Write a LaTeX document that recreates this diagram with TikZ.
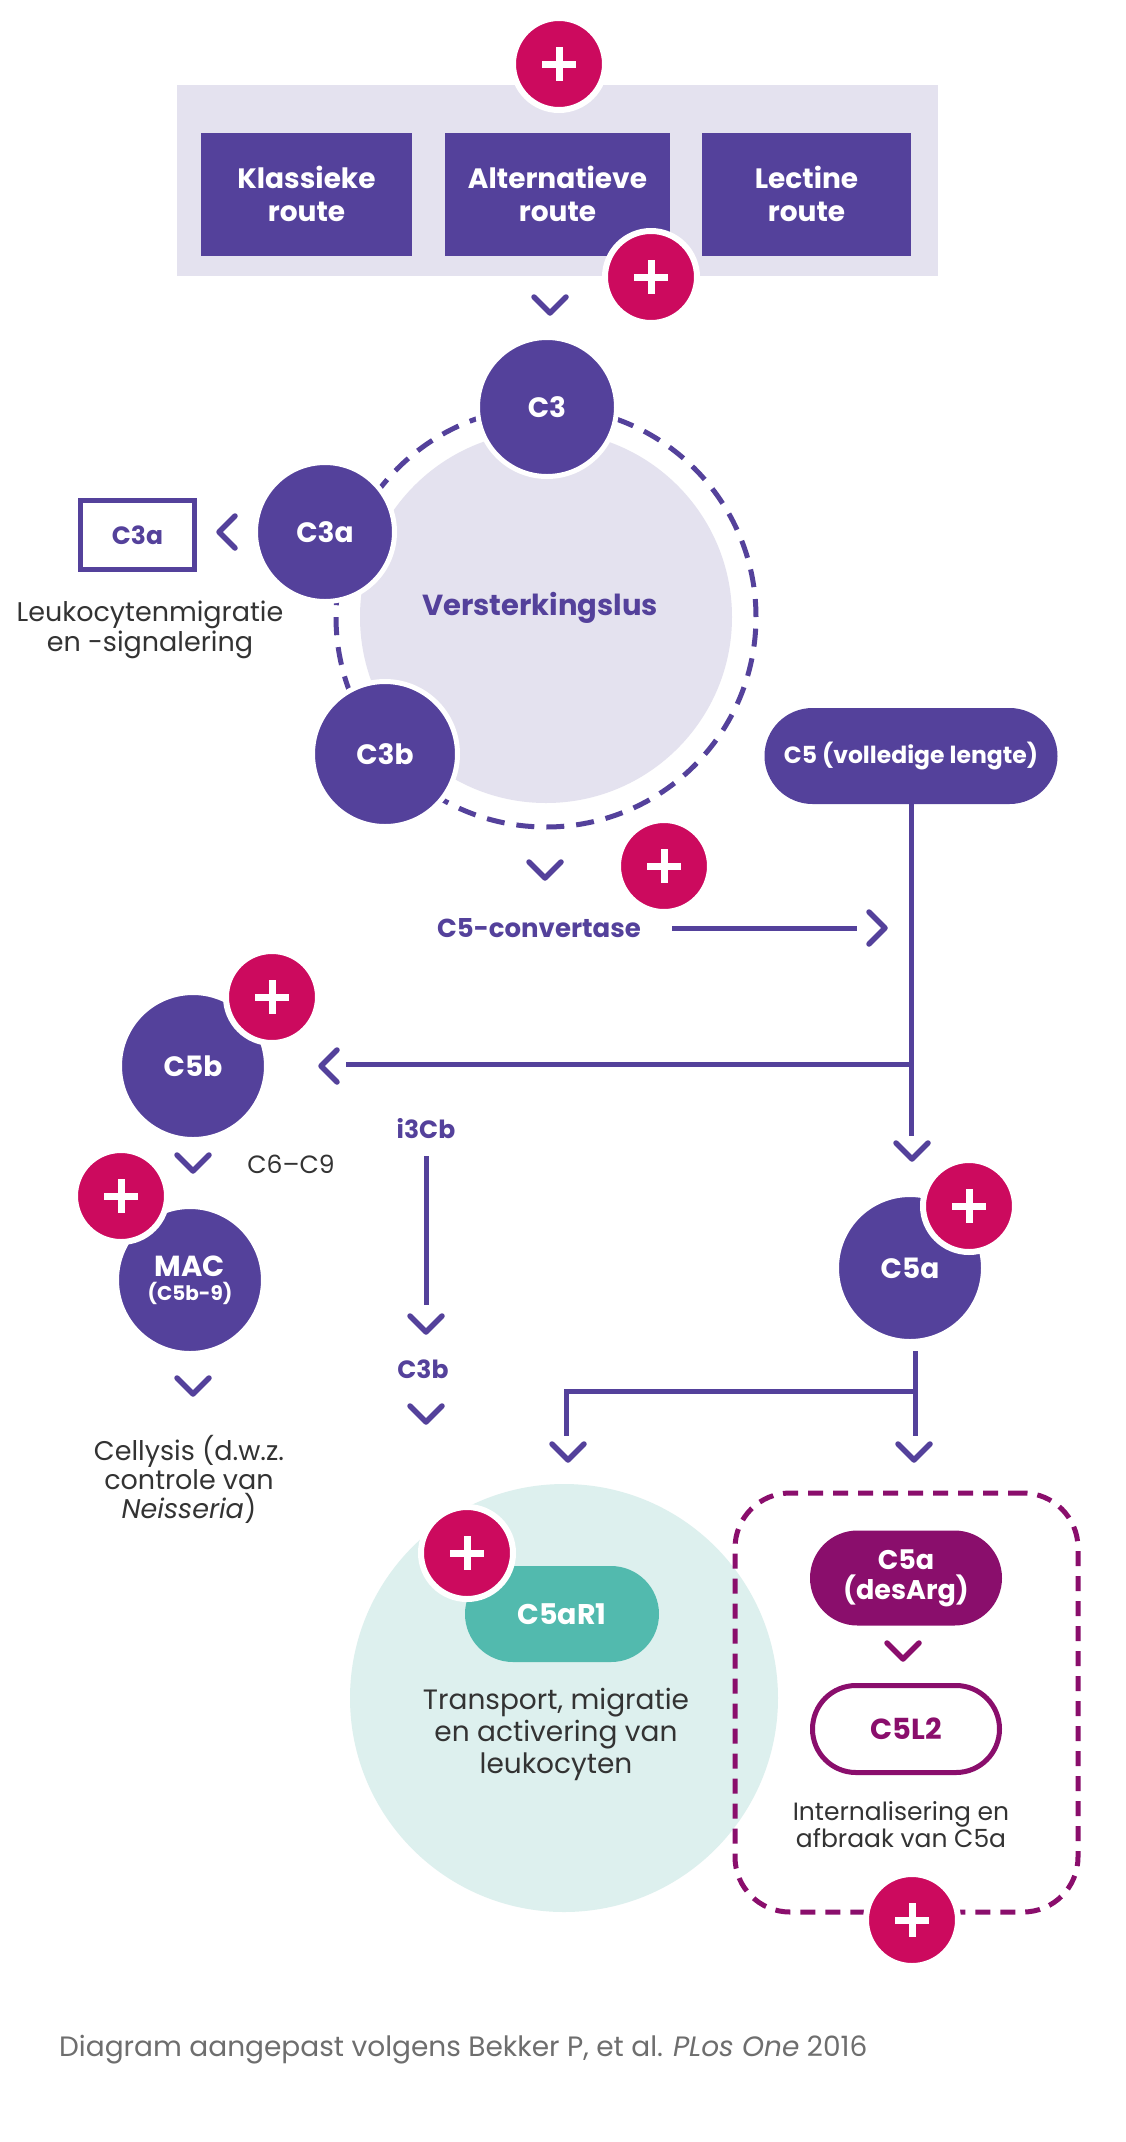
\documentclass[tikz,border=0pt]{standalone}
\usepackage{fontspec}
\setmainfont{Poppins}
\usetikzlibrary{shapes.misc}
\definecolor{pur}{RGB}{84,65,155}
\definecolor{lav}{RGB}{228,226,239}
\definecolor{mag}{RGB}{204,10,94}
\definecolor{dmag}{RGB}{138,14,108}
\definecolor{tealA}{RGB}{82,186,174}
\definecolor{lteal}{RGB}{221,240,238}
\definecolor{txt}{RGB}{51,51,51}
\definecolor{foot}{RGB}{110,110,110}
\newcommand\fs[2]{\fontsize{#1}{#2}\selectfont}
\tikzset{
 plusc/.style={circle, fill=mag, draw=white, line width=6pt, minimum size=92pt, inner sep=0pt,
   path picture={
     \fill[white] ([xshift=-17pt,yshift=-3.5pt]path picture bounding box.center) rectangle ([xshift=17pt,yshift=3.5pt]path picture bounding box.center);
     \fill[white] ([xshift=-3.5pt,yshift=-17pt]path picture bounding box.center) rectangle ([xshift=3.5pt,yshift=17pt]path picture bounding box.center);}},
 bigc/.style={circle, fill=pur, draw=white, line width=5pt, inner sep=0pt, text=white, font=\bfseries\fs{28}{30}, align=center},
 routebox/.style={rectangle, fill=pur, inner sep=0pt, minimum height=123pt, text=white, font=\bfseries\fs{28}{33}, align=center},
 pill/.style={rounded rectangle, inner sep=0pt, align=center},
 conn/.style={draw=pur, line width=5pt},
 chevst/.style={line width=5.5pt, line cap=round, line join=round},
 pics/chevD/.style={code={\draw[chevst, draw=#1] (-16,-8) -- (0,8) -- (16,-8);}},
 pics/chevD/.default=pur,
 pics/chevL/.style={code={\draw[chevst, draw=#1] (8,-16) -- (-8,0) -- (8,16);}},
 pics/chevL/.default=pur,
 pics/chevR/.style={code={\draw[chevst, draw=#1] (-8,-16) -- (8,0) -- (-8,16);}},
 pics/chevR/.default=pur,
 purtext/.style={text=pur, font=\bfseries\fs{25}{28}},
 bodytext/.style={text=txt, font=\fs{27}{30}, align=center},
}
\begin{document}
\begin{tikzpicture}[x=1pt,y=-1pt]
\useasboundingbox (0,0) rectangle (1125,2142);
\fill[white] (0,0) rectangle (1125,2142);

% top routes
\fill[lav] (177,85) rectangle (938,276);
\node[routebox, minimum width=211pt] (klas) at (306.5,194) {Klassieke\\route};
\node[routebox, minimum width=225pt] (alt) at (557.5,194) {Alternatieve\\route};
\node[routebox, minimum width=209pt] (lec) at (806.5,194) {Lectine\\route};
\node[plusc] (p1) at (559,64) {};
\node[plusc] (p2) at (651,277) {};
\pic at (550,305) {chevD};

% amplification loop
\node[circle, fill=lav, minimum size=372pt, inner sep=0pt] (loop) at (546,617) {};
\node[circle, draw=pur, line width=5pt, dash pattern=on 18pt off 12pt, minimum size=420pt, inner sep=0pt] (ring) at (546,617) {};
\node[text=pur, font=\bfseries\fs{29}{30}] (vers) at (540,608) {Versterkingslus};
\node[bigc, minimum size=139pt] (c3) at (547,407) {C3};
\node[bigc, minimum size=139pt] (c3a) at (325,532) {C3a};
\node[bigc, minimum size=145pt] (c3b) at (385,754) {C3b};
\node[draw=pur, line width=5pt, minimum width=114pt, minimum height=69pt, inner sep=0pt, purtext] (c3abox) at (137.5,535) {C3a};
\pic at (227,532) {chevL};
\node[bodytext] (leuk) at (150,630) {Leukocytenmigratie\\en -signalering};

% convertase
\pic at (545,870) {chevD};
\node[plusc] (p3) at (664,866) {};
\node[text=pur, font=\bfseries\fs{26}{28}] (conv) at (539,928) {C5-convertase};
\coordinate (cs) at (672,928);
\coordinate (ce) at (857,928);
\draw[conn] (cs) -- (ce);
\pic at (877,928) {chevR};

% C5
\node[pill, fill=pur, minimum width=293pt, minimum height=96pt, text=white, font=\bfseries\fs{23.5}{26}] (c5) at (911,756) {C5 (volledige lengte)};
\coordinate (j1) at (911,1064);
\coordinate (e1) at (911,1136);
\coordinate (e2) at (346,1064);
\draw[conn] (c5.south) -- (e1);
\draw[conn] (j1) -- (e2);
\pic at (329,1066) {chevL};
\pic at (912,1151) {chevD};

% C5a
\node[bigc, minimum size=147pt] (c5a) at (910,1268) {C5a};
\node[plusc] (p4) at (969,1206) {};
\coordinate (s2) at (915,1351);
\coordinate (j2) at (915,1391);
\coordinate (e3) at (915,1436);
\coordinate (k2) at (566,1391);
\coordinate (e4) at (566,1436);
\draw[conn] (s2) -- (e3);
\draw[conn] (j2) -- (k2) -- (e4);
\pic at (568,1452) {chevD};
\pic at (914,1452) {chevD};

% C5b / MAC
\node[bigc, minimum size=147pt] (c5b) at (193,1066) {C5b};
\node[plusc] (p5) at (272,997) {};
\pic at (193,1163) {chevD};
\node[text=txt, font=\fs{25}{28}] (c69) at (291,1164) {C6–C9};
\node[bigc, minimum size=147pt] (mac) at (190,1280) {{\fs{29}{30}MAC}\\[-6pt]{\fs{20}{22}(C5b-9)}};
\node[plusc] (p6) at (121,1196) {};
\pic at (193,1386) {chevD};
\node[text=txt, font=\fs{27}{29}, align=center] (lysis) at (189,1479) {Cellysis (d.w.z.\\controle van\\\textit{Neisseria})};

% i3Cb
\node[purtext] (i3cb) at (426,1129) {i3Cb};
\coordinate (is) at (426,1156);
\coordinate (ie) at (426,1305);
\draw[conn] (is) -- (ie);
\pic at (426,1324) {chevD};
\node[purtext] (c3bt) at (423,1369) {C3b};
\pic at (426,1414) {chevD};

% C5aR1
\node[circle, fill=lteal, minimum size=428pt, inner sep=0pt] (tealc) at (564,1698) {};
\node[pill, fill=tealA, minimum width=194pt, minimum height=96pt, text=white, font=\bfseries\fs{28.5}{30}] (c5ar1) at (562,1614) {C5aR1};
\node[plusc] (p7) at (467,1553) {};
\node[text=txt, font=\fs{28}{32}, align=center] (trans) at (556,1734) {Transport, migratie\\en activering van\\leukocyten};

% C5L2 group
\node[draw=dmag, line width=5pt, dash pattern=on 15pt off 10pt, rounded corners=55pt, minimum width=343pt, minimum height=419pt, inner sep=0pt] (grp) at (906.5,1702.5) {};
\node[pill, fill=dmag, minimum width=192pt, minimum height=95pt, text=white, font=\bfseries\fs{27}{30}] (desarg) at (906,1578) {C5a\\(desArg)};
\pic at (903,1651) {chevD=dmag};
\node[pill, draw=dmag, line width=5pt, minimum width=187pt, minimum height=87pt, text=dmag, font=\bfseries\fs{29}{30}] (c5l2) at (906,1729) {C5L2};
\node[text=txt, font=\fs{25}{27}, align=center] (intern) at (901,1825) {Internalisering en\\afbraak van C5a};
\node[plusc] (p8) at (912,1920) {};

% footer
\node[anchor=west, text=foot, font=\fs{28}{30}, inner sep=0pt] (footer) at (59,2050) {Diagram aangepast volgens Bekker P, et al. \textit{PLos One} 2016};
\end{tikzpicture}
\end{document}
